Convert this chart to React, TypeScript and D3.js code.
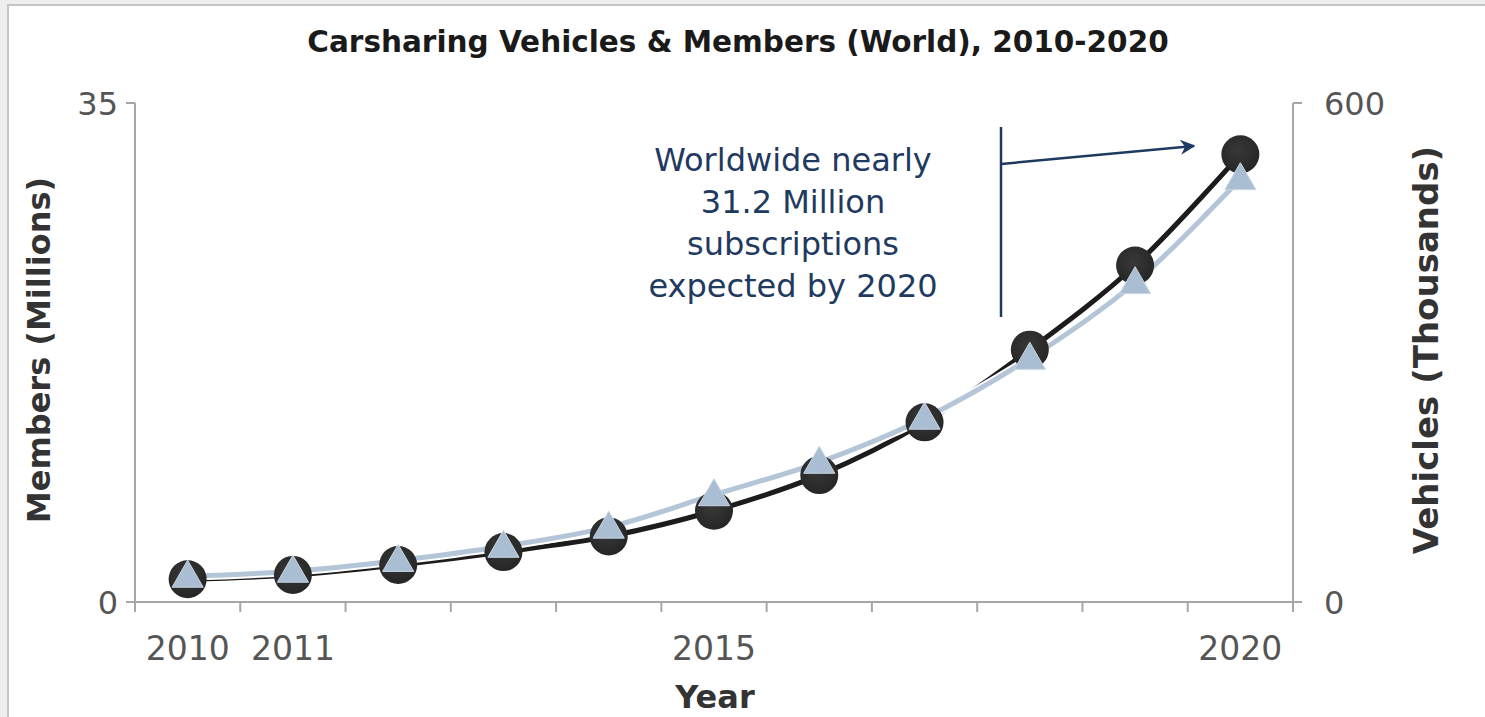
import React from 'react';
import * as d3 from 'd3';

const years = ['2010', '2011', '2012', '2013', '2014', '2015', '2016', '2017', '2018', '2019', '2020'];
const shownYears = ['2010', '2011', '2015', '2020'];
// members in millions (left axis), vehicles in thousands (right axis)
const members = [1.6, 1.9, 2.6, 3.5, 4.6, 6.4, 8.9, 12.6, 17.7, 23.6, 31.4];
const vehicles = [31, 37, 50, 67, 90, 129, 168, 221, 293, 384, 509];
const membersTicks = [0, 35];
const vehiclesTicks = [0, 600];
const noteLines = ['Worldwide nearly', '31.2 Million', 'subscriptions', 'expected by 2020'];

const W = 1485;
const H = 717;
const FONT = '"DejaVu Sans", Verdana, sans-serif';

export default function App() {
  const left = 135;
  const right = 1293;
  const top = 103;
  const bottom = 602;

  const x = d3.scaleBand<string>().domain(years).range([left, right]);
  const yL = d3.scaleLinear().domain([0, 35]).range([bottom, top]);
  const yR = d3.scaleLinear().domain([0, 600]).range([bottom, top]);
  const cx = (i: number) => (x(years[i]) || 0) + x.bandwidth() / 2;

  const curve = d3.curveCatmullRom.alpha(0.5);
  const memberLine = d3.line<number>().x((_, i) => cx(i)).y(d => yL(d)).curve(curve);
  const vehicleLine = d3.line<number>().x((_, i) => cx(i)).y(d => yR(d)).curve(curve);

  const tri = d3.symbol().type(d3.symbolTriangle).size(420)();
  const boundaries = d3.range(years.length + 1).map(i => left + i * x.step());

  const axisColor = '#a6a6a6';
  const tickText = '#555555';
  const noteColor = '#1f3a60';

  return (
    <svg width={W} height={H} style={{ position: 'fixed', left: 0, top: 0, display: 'block' }} fontFamily={FONT}>
      <defs>
        <radialGradient id="dot" cx="45%" cy="40%" r="60%">
          <stop offset="0%" stopColor="#383838" />
          <stop offset="100%" stopColor="#262626" />
        </radialGradient>
        <marker id="arrow" viewBox="0 0 10 10" refX="9" refY="5" markerWidth="6" markerHeight="6" orient="auto">
          <path d="M0,0 L10,5 L0,10 L3,5 Z" fill={noteColor} />
        </marker>
      </defs>

      <rect x={0} y={0} width={W} height={H} fill="#eeeeee" />
      <rect x={8} y={5} width={W + 10} height={H + 10} fill="#ffffff" stroke="#c4c4c4" strokeWidth={2} />

      <text x={738} y={52} textAnchor="middle" fontWeight="bold" fontSize={29.5} fill="#1a1a1a">
        Carsharing Vehicles &amp; Members (World), 2010-2020
      </text>

      {/* axes */}
      <line x1={left} x2={left} y1={top} y2={bottom} stroke={axisColor} strokeWidth={2} />
      <line x1={right} x2={right} y1={top} y2={bottom + 9} stroke={axisColor} strokeWidth={2} />
      <line x1={left - 9} x2={right} y1={bottom} y2={bottom} stroke={axisColor} strokeWidth={2} />
      {membersTicks.map(t => (
        <g key={'l' + t}>
          <line x1={left - 9} x2={left} y1={yL(t)} y2={yL(t)} stroke={axisColor} strokeWidth={2} />
          <text x={left - 17} y={yL(t) + 12} textAnchor="end" fontSize={32} fill={tickText}>{t}</text>
        </g>
      ))}
      {vehiclesTicks.map(t => (
        <g key={'r' + t}>
          <line x1={right} x2={right + 9} y1={yR(t)} y2={yR(t)} stroke={axisColor} strokeWidth={2} />
          <text x={right + 31} y={yR(t) + 12} textAnchor="start" fontSize={32} fill={tickText}>{t}</text>
        </g>
      ))}
      {boundaries.map(b => (
        <line key={'b' + b} x1={b} x2={b} y1={bottom} y2={bottom + 10} stroke={axisColor} strokeWidth={2} />
      ))}
      {years.map((yr, i) =>
        shownYears.includes(yr) ? (
          <text key={yr} x={cx(i)} y={660} textAnchor="middle" fontSize={33} fill={tickText}>{yr}</text>
        ) : null
      )}

      <text x={715} y={708} textAnchor="middle" fontWeight="bold" fontSize={32} fill="#333333">Year</text>
      <text transform="translate(50,350) rotate(-90)" textAnchor="middle" fontWeight="bold" fontSize={32} fill="#333333">
        Members (Millions)
      </text>
      <text transform="translate(1438,350) rotate(-90)" textAnchor="middle" fontWeight="bold" fontSize={34} fill="#333333">
        Vehicles (Thousands)
      </text>

      {/* series */}
      <path d={memberLine(members) || ''} fill="none" stroke="#1c1c1c" strokeWidth={5} />
      <path d={vehicleLine(vehicles) || ''} fill="none" stroke="#ffffff" strokeWidth={9} />
      <path d={vehicleLine(vehicles) || ''} fill="none" stroke="#b3c5d7" strokeWidth={5} />
      {members.map((v, i) => (
        <circle key={'m' + i} cx={cx(i)} cy={yL(v)} r={19} fill="url(#dot)" />
      ))}
      {vehicles.map((v, i) => (
        <path key={'v' + i} d={tri || ''} transform={`translate(${cx(i)},${yR(v) + 2})`} fill="#a9bed2" stroke="#c9d6e3" strokeWidth={1} />
      ))}

      {/* annotation */}
      {noteLines.map((s, i) => (
        <text key={s} x={793} y={171 + i * 42} textAnchor="middle" fontSize={32} fill={noteColor}>{s}</text>
      ))}
      <line x1={1001} x2={1001} y1={127} y2={317} stroke={noteColor} strokeWidth={2.5} />
      <line x1={1001} y1={164} x2={1194} y2={146} stroke={noteColor} strokeWidth={2.5} markerEnd="url(#arrow)" />
    </svg>
  );
}
